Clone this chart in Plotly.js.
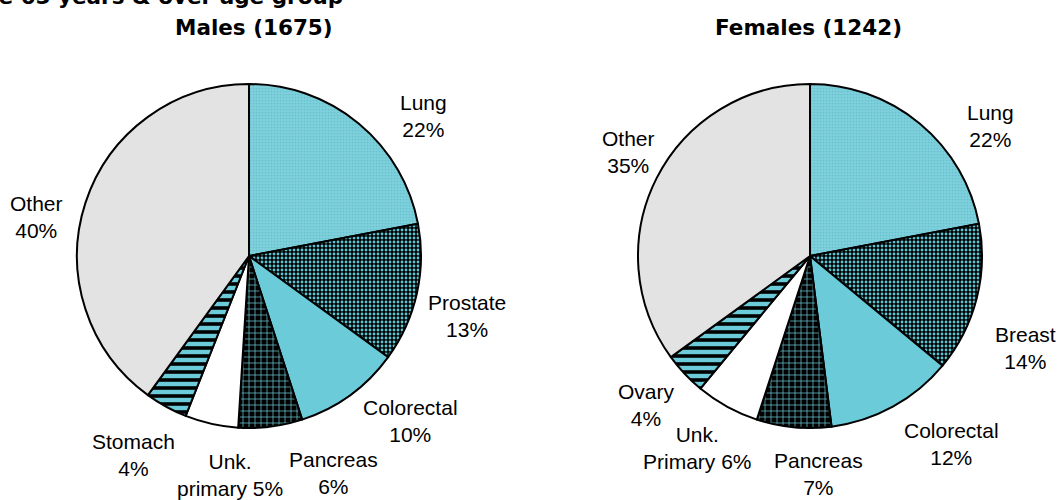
<!DOCTYPE html>
<html>
<head>
<meta charset="utf-8">
<script src="https://cdn.plot.ly/plotly-3.0.1.min.js"></script>
<style>html,body{margin:0;padding:0;background:#fff}#chart{width:1060px;height:500px}</style>
</head>
<body>
<div id="chart"></div>
<script>
// ---- data ----
const mainTitle = "Deaths in the 65 years & over age group";
const maleTitle = "Males (1675)";
const femaleTitle = "Females (1242)";
const maleLabels = ["Lung", "Prostate", "Colorectal", "Pancreas", "Unk. primary", "Stomach", "Other"];
const maleValues = [22, 13, 10, 6, 5, 4, 40];
const femaleLabels = ["Lung", "Breast", "Colorectal", "Pancreas", "Unk. Primary", "Ovary", "Other"];
const femaleValues = [22, 14, 12, 7, 6, 4, 35];

// ---- styles (by slice order) ----
const W = 1060, H = 500;
const cyan = '#6ccbd9';
const sliceColors = ['#80d0dc', '#000000', cyan, '#000000', '#ffffff', cyan, '#e3e3e3'];
const patShape = ['.', '.', '', '+', '', '-', ''];
const patFg = ['#62c2d0', '#5fc4d2', cyan, cyan, '#fff', '#000000', '#e3e3e3'];
const patBg = ['#80d0dc', '#000000', cyan, '#000000', '#ffffff', cyan, '#e3e3e3'];
const patSize = [3, 4, 8, 6, 8, 8, 8];
const patSolid = [0.25, 0.4, 0.3, 0.22, 0.3, 0.45, 0.3];

// label centres (pixels) for each slice label
const maleLabelPos = [[423,116],[467,316],[410,421],[333,473],[230,475],[133,455],[36,217]];
const femaleLabelPos = [[990,126],[1025,348],[951,444],[818,474],[697,448],[646,405],[628,152]];

function pieTrace(labels, values, cx) {
  const r = 172, cy = 256;
  return {
    type: 'pie', labels: labels, values: values,
    sort: false, direction: 'clockwise', rotation: 0,
    textinfo: 'none', hoverinfo: 'label+percent', showlegend: false,
    domain: {x: [(cx - r) / W, (cx + r) / W], y: [1 - (cy + r) / H, 1 - (cy - r) / H]},
    marker: {
      colors: sliceColors,
      line: {color: '#000', width: 2},
      pattern: {shape: patShape, fgcolor: patFg, bgcolor: patBg, size: patSize, solidity: patSolid, fillmode: 'replace'}
    }
  };
}

function labelText(lab, v) {
  if (lab.startsWith('Unk. ')) return 'Unk.<br>' + lab.slice(5) + ' ' + v + '%';
  return lab + '<br>' + v + '%';
}

const labelFont = {family: 'Liberation Sans, Arial, sans-serif', size: 21, color: '#000'};
const titleFont = {family: 'DejaVu Sans, Verdana, sans-serif', size: 21.5, color: '#000', weight: 'bold'};

const annotations = [];
function addLabels(labels, values, pos) {
  labels.forEach((lab, i) => {
    annotations.push({
      xref: 'paper', yref: 'paper', x: pos[i][0] / W, y: 1 - pos[i][1] / H,
      xanchor: 'center', yanchor: 'middle', showarrow: false, align: 'center',
      text: labelText(lab, values[i]), font: labelFont
    });
  });
}
addLabels(maleLabels, maleValues, maleLabelPos);
addLabels(femaleLabels, femaleValues, femaleLabelPos);

annotations.push({xref: 'paper', yref: 'paper', x: 254 / W, y: 1 - 27 / H, xanchor: 'center', yanchor: 'middle',
  showarrow: false, text: '<b>' + maleTitle + '</b>', font: titleFont});
annotations.push({xref: 'paper', yref: 'paper', x: 808 / W, y: 1 - 27 / H, xanchor: 'center', yanchor: 'middle',
  showarrow: false, text: '<b>' + femaleTitle + '</b>', font: titleFont});
annotations.push({xref: 'paper', yref: 'paper', x: 345 / W, y: 1 + 3 / H, xanchor: 'right', yanchor: 'middle',
  showarrow: false, text: '<b>' + mainTitle + '</b>', font: titleFont});

const layout = {
  width: W, height: H,
  margin: {l: 0, r: 0, t: 0, b: 0},
  paper_bgcolor: '#fff', plot_bgcolor: '#fff',
  annotations: annotations
};

Plotly.newPlot('chart', [pieTrace(maleLabels, maleValues, 249), pieTrace(femaleLabels, femaleValues, 810)], layout, {displayModeBar: false, staticPlot: true});
</script>
</body>
</html>
